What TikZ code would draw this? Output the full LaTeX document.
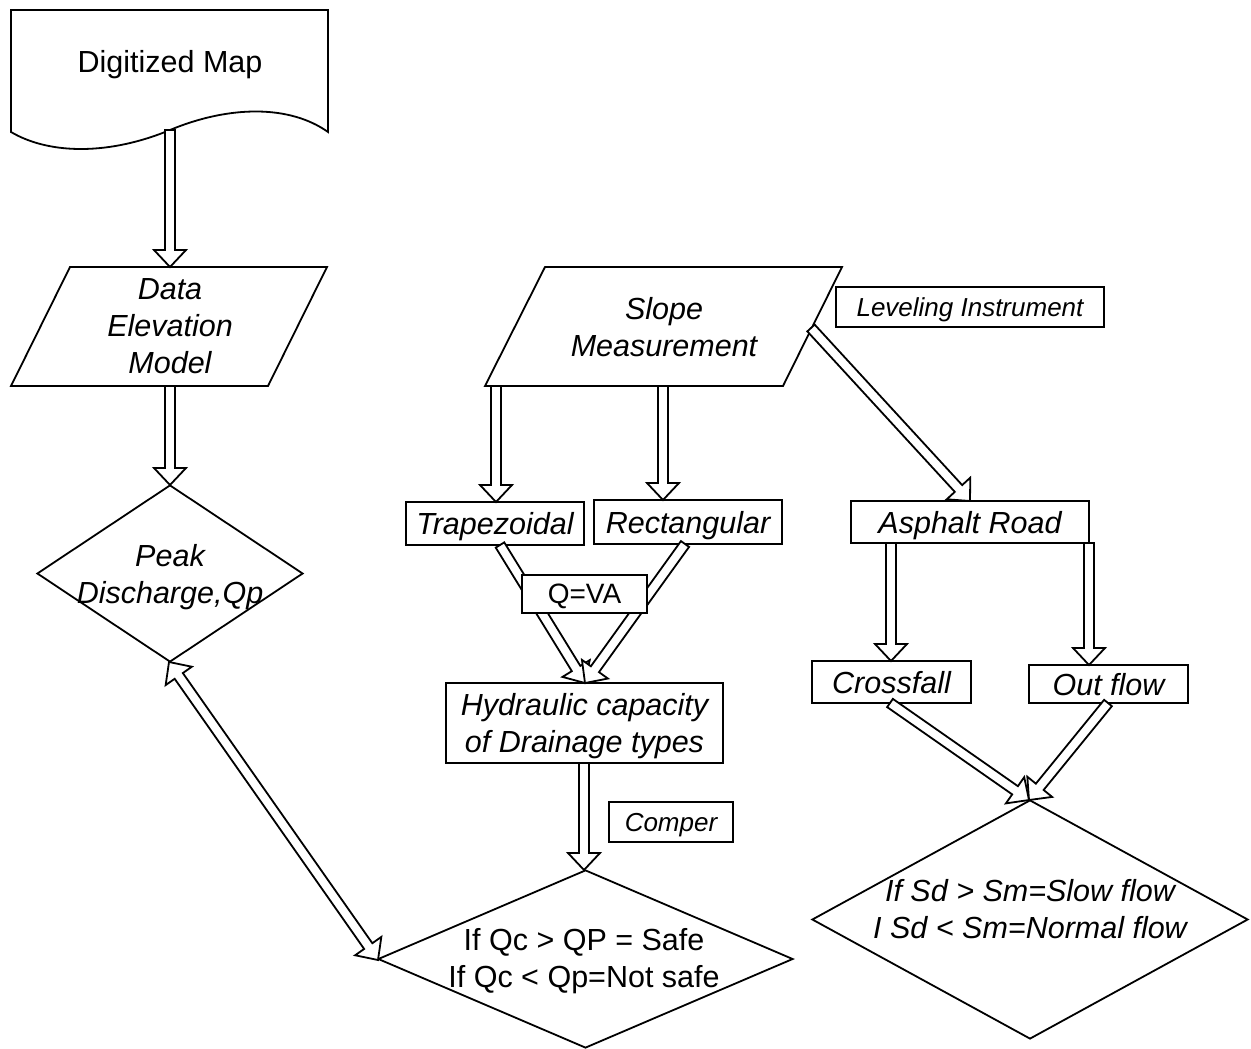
\documentclass[tikz,border=0pt]{standalone}
\usepackage{fontspec}
\setmainfont{Liberation Sans}
\usetikzlibrary{calc,shapes.geometric}
\newcommand{\mySw}{5pt}
\newcommand{\myHw}{16pt}
\newcommand{\myHl}{17pt}
\newcommand{\blockarrow}[2]{%
  \coordinate (ba-c) at ($(#2)!\myHl!(#1)$);
  \filldraw[blk] ($(#1)!\mySw!90:(#2)$) -- ($(ba-c)!\mySw!-90:(#1)$) -- ($(ba-c)!\myHw!-90:(#1)$) -- (#2) -- ($(ba-c)!\myHw!90:(#1)$) -- ($(ba-c)!\mySw!90:(#1)$) -- ($(#1)!\mySw!-90:(#2)$) -- cycle;
}
\newcommand{\dblockarrow}[2]{%
  \coordinate (ba-a) at ($(#1)!\myHl!(#2)$);
  \coordinate (ba-b) at ($(#2)!\myHl!(#1)$);
  \filldraw[blk] (#1) -- ($(ba-a)!\myHw!90:(#2)$) -- ($(ba-a)!\mySw!90:(#2)$) -- ($(ba-b)!\mySw!-90:(#1)$) -- ($(ba-b)!\myHw!-90:(#1)$) -- (#2) -- ($(ba-b)!\myHw!90:(#1)$) -- ($(ba-b)!\mySw!90:(#1)$) -- ($(ba-a)!\mySw!-90:(#2)$) -- ($(ba-a)!\myHw!-90:(#2)$) -- cycle;
}
\tikzset{
  shp/.style={draw=black, line width=1.8pt, fill=white, line join=miter},
  box/.style={shp, rectangle, inner sep=0pt, text depth=0pt},
  dia/.style={shp, diamond, inner sep=0pt},
  lbl/.style={font=\fontsize{30.5}{37}\selectfont\itshape, align=center, inner sep=0pt},
  lblup/.style={font=\fontsize{30.5}{37}\selectfont, align=center, inner sep=0pt},
  lblsm/.style={font=\fontsize{26}{31}\selectfont\itshape, align=center, inner sep=0pt},
  blk/.style={draw=black, line width=1.8pt, fill=white, line join=miter},
}
\begin{document}
\begin{tikzpicture}[x=1pt, y=-1pt]
\useasboundingbox (0,0) rectangle (1251,1049);
\fill[white] (0,0) rectangle (1251,1049);

% ---------- shapes ----------
% document
\draw[shp] (11,10) -- (328,10) -- (328,132)
  .. controls (290,105) and (230,105) .. (170,130)
  .. controls (110,155) and (50,155) .. (11,132) -- cycle;
\node[lblup, text depth=0pt] (doc) at (170,61) {Digitized Map};

% DEM parallelogram
\draw[shp] (70,267) -- (327,267) -- (268,386) -- (11,386) -- cycle;
\node[lbl] (dem) at (170,326) {Data\\Elevation\\Model};

% Peak diamond
\node[dia, minimum width=266pt, minimum height=177pt] (peak) at (170,573.5) {};
\node[lbl] (peaktxt) at (170,577) {Peak\\Discharge,Qp};

% Slope parallelogram
\draw[shp] (545,267) -- (842,267) -- (783,386) -- (485,386) -- cycle;
\node[lbl] (slope) at (664,327) {Slope\\Measurement};

% boxes
\node[box, lblsm, minimum width=268pt, minimum height=40pt] (level) at (970,307) {Leveling Instrument};
\node[box, lbl, minimum width=178pt, minimum height=43pt] (trap) at (495,523.5) {Trapezoidal};
\node[box, lbl, minimum width=188pt, minimum height=44pt] (rect) at (688,522) {Rectangular};
\node[box, lbl, minimum width=238pt, minimum height=42pt] (asph) at (970,522) {Asphalt Road};
\node[box, minimum width=277pt, minimum height=80pt] (hyd) at (584.5,723) {};
\node[lbl] (hydtxt) at (584.5,726) {Hydraulic capacity\\of Drainage types};
\node[box, lblsm, minimum width=124pt, minimum height=40pt] (comp) at (671,822) {Comper};
\node[box, lbl, minimum width=159pt, minimum height=42pt] (cross) at (891.5,682) {Crossfall};
\node[box, lbl, minimum width=159pt, minimum height=38pt] (outf) at (1108.5,684) {Out flow};

% bottom diamond
\node[dia, minimum width=415pt, minimum height=178pt] (check) at (585.5,959) {};
\node[lblup] (checktxt) at (584,961) {If Qc > QP = Safe\\If Qc < Qp=Not safe};

% right diamond
\node[dia, minimum width=436pt, minimum height=239pt] (res) at (1030,919.5) {};
\node[lbl] (restxt) at (1030,909.5) {If Sd > Sm=Slow flow\\I Sd < Sm=Normal flow};

% ---------- connection points ----------
\coordinate (doc-s) at (170,130);
\coordinate (dem-n) at (170,267);
\coordinate (dem-s) at (170,386);
\coordinate (peak-n) at (170,485);
\coordinate (peak-s) at (169,662);
\coordinate (slope-s1) at (496,386);
\coordinate (slope-s2) at (663,386);
\coordinate (slope-e) at (811,328);
\coordinate (trap-n) at (496,502);
\coordinate (rect-n) at (663,500);
\coordinate (trap-s) at (500,545);
\coordinate (rect-s) at (685,544);
\coordinate (hyd-n) at (585,683);
\coordinate (hyd-s) at (584,763);
\coordinate (check-n) at (584,870);
\coordinate (check-w) at (378,960);
\coordinate (asph-n) at (970,501);
\coordinate (asph-s1) at (891,543);
\coordinate (asph-s2) at (1089,543);
\coordinate (cross-n) at (891,661);
\coordinate (outf-n) at (1089,665);
\coordinate (cross-s) at (890,703);
\coordinate (outf-s) at (1108,703);
\coordinate (res-n) at (1029,800);

% ---------- connectors ----------
\blockarrow{doc-s}{dem-n}
\blockarrow{dem-s}{peak-n}
\blockarrow{slope-s1}{trap-n}
\blockarrow{slope-s2}{rect-n}
\blockarrow{slope-e}{asph-n}
\blockarrow{trap-s}{hyd-n}
\blockarrow{rect-s}{hyd-n}
\blockarrow{hyd-s}{check-n}
\blockarrow{asph-s1}{cross-n}
\blockarrow{asph-s2}{outf-n}
\blockarrow{cross-s}{res-n}
\blockarrow{outf-s}{res-n}
\dblockarrow{peak-s}{check-w}

% Q=VA box on top of arrows
\node[box, font=\fontsize{28}{33}\selectfont, minimum width=125pt, minimum height=38pt] (qva) at (584.5,594) {Q=VA};
\end{tikzpicture}
\end{document}
